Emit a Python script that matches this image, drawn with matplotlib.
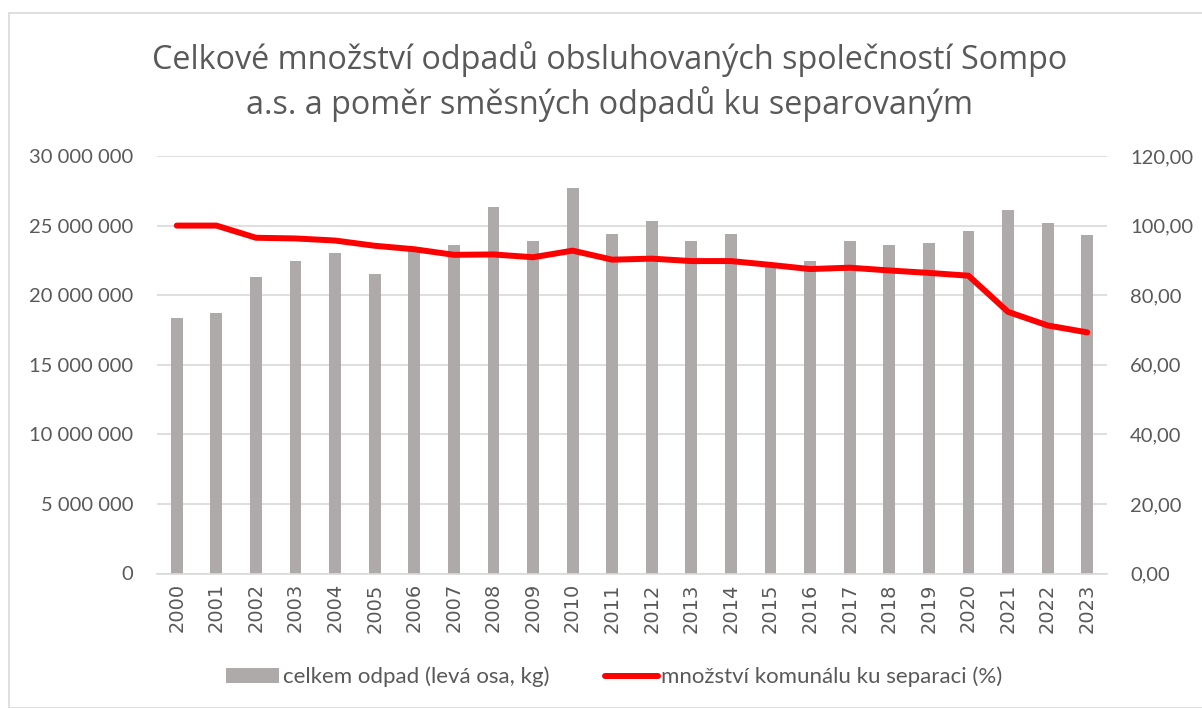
import matplotlib
matplotlib.use('Agg')
import matplotlib.pyplot as plt
from matplotlib.patches import Rectangle
from matplotlib.ticker import FuncFormatter

plt.rcParams['font.family'] = ['Lato', 'DejaVu Sans']

years = [str(y) for y in range(2000, 2024)]
total_kg = [18.36e6, 18.74e6, 21.31e6, 22.43e6, 23.01e6, 21.55e6, 23.2e6, 23.63e6,
            26.35e6, 23.90e6, 27.73e6, 24.37e6, 25.31e6, 23.92e6, 24.42e6, 22.2e6,
            22.43e6, 23.90e6, 23.61e6, 23.78e6, 24.64e6, 26.15e6, 25.19e6, 24.33e6]
ratio_pct = [100.0, 100.0, 96.5, 96.3, 95.7, 94.2, 93.2, 91.6, 91.7, 90.9, 92.8, 90.2,
             90.5, 89.8, 89.8, 88.7, 87.5, 87.9, 87.1, 86.4, 85.6, 75.2, 71.3, 69.3]

bar_label = 'celkem odpad (levá osa, kg)'
line_label = 'množství komunálu ku separaci (%)'
title = 'Celkové množství odpadů obsluhovaných společností Sompo\na.s. a poměr směsných odpadů ku separovaným'

txt = '#595959'
grid = '#D9D9D9'

fig = plt.figure(figsize=(12.02, 7.08), dpi=100)
fig.patches.append(Rectangle((8.5/1202, 0), 1.0, 1 - 12.5/708, transform=fig.transFigure,
                             fill=False, edgecolor=grid, linewidth=1.2))

ax = fig.add_axes([157/1202, 1 - 573.5/708, 950/1202, 417.5/708])
x = range(len(years))
bars = ax.bar(x, total_kg, width=0.3, color='#AEAAAA', label=bar_label, zorder=2)
ax.set_xlim(-0.5, len(years) - 0.5)
ax.set_ylim(0, 30e6)
ax.set_yticks([i * 5e6 for i in range(7)])
ax.yaxis.set_major_formatter(FuncFormatter(lambda v, p: f'{int(v):,}'.replace(',', ' ')))
ax.set_xticks(list(x))
ax.set_xticklabels(years, rotation=90, family=['DejaVu Sans'], fontsize=14)
ax.grid(axis='y', color=grid, linewidth=1.2, zorder=0)
for s in ['top', 'left', 'right']:
    ax.spines[s].set_visible(False)
ax.spines['bottom'].set_color(grid)
ax.spines['bottom'].set_linewidth(1.2)
ax.tick_params(axis='y', length=0, labelsize=14.5, colors=txt, pad=17)
ax.tick_params(axis='x', length=0, colors=txt, pad=7)

ax2 = ax.twinx()
line, = ax2.plot(x, ratio_pct, color='#FF0000', linewidth=4.3, solid_capstyle='round',
                 solid_joinstyle='round', label=line_label, zorder=3)
ax2.set_ylim(0, 120)
ax2.set_yticks(range(0, 121, 20))
ax2.yaxis.set_major_formatter(FuncFormatter(lambda v, p: f'{v:.2f}'.replace('.', ',')))
for s in ax2.spines.values():
    s.set_visible(False)
ax2.tick_params(axis='y', length=0, labelsize=14.5, colors=txt, pad=16.5)

fig.text(0.507, 1 - 81.5/708, title, ha='center', va='center', fontsize=23.3, color=txt,
         family=['Open Sans', 'DejaVu Sans'], linespacing=1.33)

fig.legend([bars, line], [bar_label, line_label], loc='center', bbox_to_anchor=(0.511, 1 - 677/708),
           ncol=2, frameon=False, fontsize=16, labelcolor=txt, handlelength=2.4,
           columnspacing=2.5, handletextpad=0.15)

fig.savefig('out.png', dpi=100)
